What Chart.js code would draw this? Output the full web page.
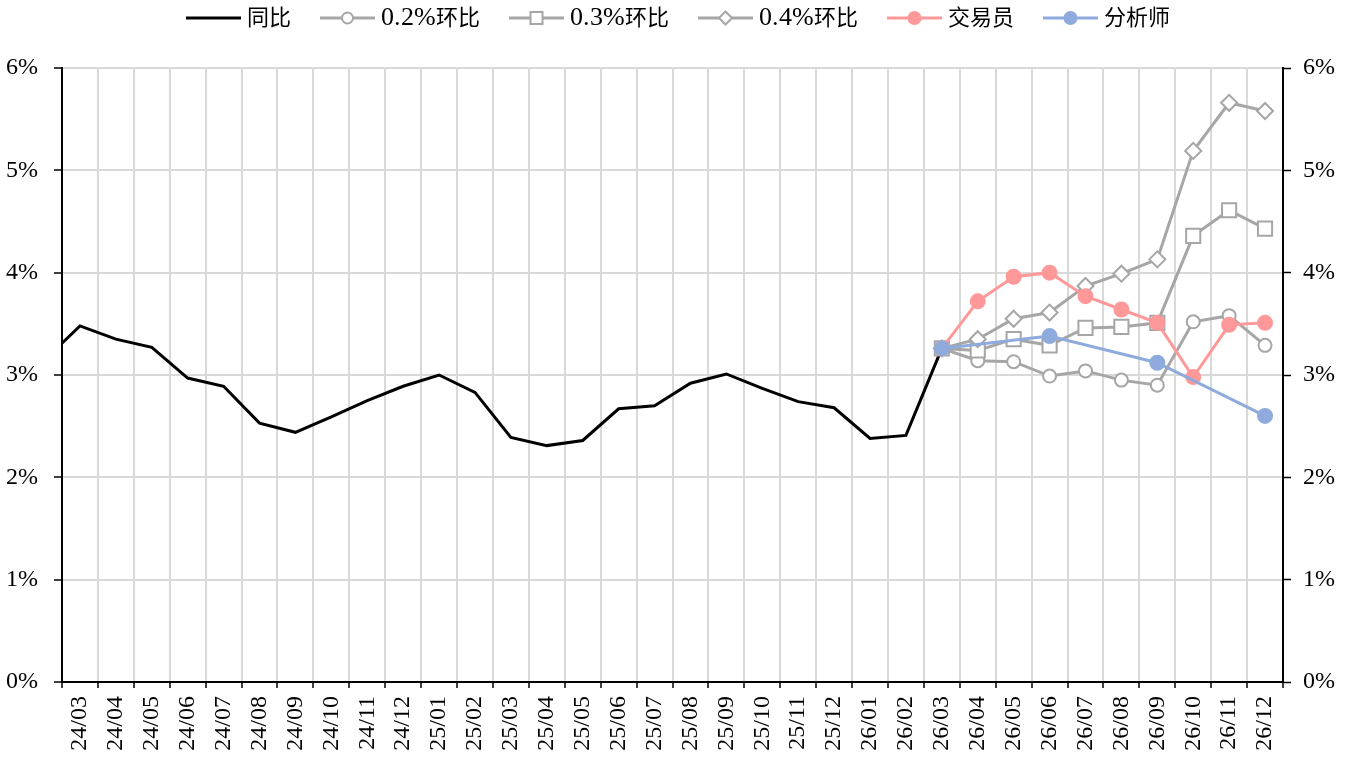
<!DOCTYPE html>
<html><head><meta charset="utf-8">
<script src="https://cdn.jsdelivr.net/npm/chart.js@4.4.1/dist/chart.umd.min.js"></script>
<style>
html,body{margin:0;padding:0;background:#fff}#wrap{width:1356px;height:758px}
@font-face{font-family:'LegendLatin';src:local('Liberation Serif'),local('LiberationSerif');size-adjust:120%;unicode-range:U+0000-00FF;}
</style>
</head><body><div id="wrap"><canvas id="c" width="1356" height="758"></canvas></div>
<script>
// ---- data ----
const priorMonth = '24/02';          // month before the window (only its segment edge is visible)
const months = ['24/03','24/04','24/05','24/06','24/07','24/08','24/09','24/10','24/11','24/12',
  '25/01','25/02','25/03','25/04','25/05','25/06','25/07','25/08','25/09','25/10','25/11','25/12',
  '26/01','26/02','26/03','26/04','26/05','26/06','26/07','26/08','26/09','26/10','26/11','26/12'];
const priorYoY = 3.14;
const yoy = [3.48,3.35,3.27,2.97,2.89,2.53,2.44,2.59,2.75,2.89,
  3.00,2.83,2.39,2.31,2.36,2.67,2.70,2.92,3.01,2.87,2.74,2.68,
  2.38,2.41,3.26];
const forecastStart = '26/03';
const mom02 = [3.26,3.14,3.13,2.99,3.04,2.95,2.90,3.52,3.58,3.29];
const mom03 = [3.26,3.24,3.35,3.29,3.46,3.47,3.51,4.36,4.61,4.43];
const mom04 = [3.26,3.35,3.55,3.61,3.87,3.99,4.13,5.19,5.66,5.58];
const trader = [3.26,3.72,3.96,4.00,3.77,3.64,3.51,2.98,3.49,3.51];
const analyst = [3.26,null,null,3.38,null,null,3.12,null,null,2.60];
const yTicks = [0,1,2,3,4,5,6];
const seriesNames = ['同比','0.2%环比','0.3%环比','0.4%环比','交易员','分析师'];

// ---- build ----
const labels = [priorMonth, ...months];
const fcOffset = labels.indexOf(forecastStart);
function padSeries(vals, offset) {
  const arr = new Array(labels.length).fill(null);
  vals.forEach((v, i) => { arr[offset + i] = v; });
  return arr;
}
const yoyData = padSeries([priorYoY, ...yoy], 0);

const GRAY = '#A6A6A6', PINK = '#FF9999', BLUE = '#8FAADC', BLACK = '#000000';
const FONT = "'Liberation Serif','Times New Roman','Noto Sans CJK SC',serif";
const LEGEND_FONT = "'LegendLatin','Liberation Serif','Noto Sans CJK SC',serif";

function makeIcon(color, marker, filled) {
  const W = 60, H = 20;
  const c = document.createElement('canvas');
  c.width = W; c.height = H;
  const g = c.getContext('2d');
  g.strokeStyle = color; g.lineWidth = 3;
  g.beginPath(); g.moveTo(5, H/2); g.lineTo(W, H/2); g.stroke();
  const cx = 32.5, cy = H/2;
  g.lineWidth = 2; g.fillStyle = filled ? color : '#ffffff';
  g.beginPath();
  if (marker === 'circle') { g.arc(cx, cy, filled ? 7 : 5.5, 0, Math.PI*2); }
  else if (marker === 'rect') { g.rect(cx-6, cy-6, 12, 12); }
  else if (marker === 'rectRot') { g.moveTo(cx, cy-6.5); g.lineTo(cx+6.5, cy); g.lineTo(cx, cy+6.5); g.lineTo(cx-6.5, cy); g.closePath(); }
  if (marker) { g.fill(); if (!filled) g.stroke(); }
  return c;
}

const topSpacer = {
  id: 'topSpacer',
  beforeInit(chart) {
    const box = {
      position: 'top', weight: 500, fullSize: true, options: {},
      width: 0, height: 0, top: 0, left: 0, right: 0, bottom: 0,
      update(maxWidth) { this.width = maxWidth; this.height = 29; },
      isHorizontal() { return true; },
      draw() {}
    };
    Chart.layouts.addBox(chart, box);
  }
};

function markerDs(label, data, color, style, radius, filled, order) {
  return {
    label, data, borderColor: color, borderWidth: 3,
    pointStyle: style, pointRadius: radius, pointHoverRadius: radius,
    pointBackgroundColor: filled ? color : '#ffffff', pointBorderColor: color,
    pointBorderWidth: 2, spanGaps: true, order
  };
}

function build() {
  const icons = [
    makeIcon(BLACK, null, false),
    makeIcon(GRAY, 'circle', false),
    makeIcon(GRAY, 'rect', false),
    makeIcon(GRAY, 'rectRot', false),
    makeIcon(PINK, 'circle', true),
    makeIcon(BLUE, 'circle', true)
  ];
  const datasets = [
    { label: seriesNames[0], data: yoyData, borderColor: BLACK, borderWidth: 3, pointRadius: 0, order: 6 },
    markerDs(seriesNames[1], padSeries(mom02, fcOffset), GRAY, 'circle', 6.5, false, 5),
    markerDs(seriesNames[2], padSeries(mom03, fcOffset), GRAY, 'rect', 10, false, 4),
    markerDs(seriesNames[3], padSeries(mom04, fcOffset), GRAY, 'rectRot', 8, false, 3),
    markerDs(seriesNames[4], padSeries(trader, fcOffset), PINK, 'circle', 7, true, 2),
    markerDs(seriesNames[5], padSeries(analyst, fcOffset), BLUE, 'circle', 7, true, 1)
  ];
  const yCommon = {
    type: 'linear', min: yTicks[0], max: yTicks[yTicks.length-1],
    ticks: { stepSize: 1, color: '#000', font: { family: FONT, size: 24 }, padding: 12,
             callback: v => v + '%' },
    border: { color: '#000', width: 2 }
  };
  new Chart(document.getElementById('c'), {
    type: 'line',
    data: { labels, datasets },
    plugins: [topSpacer],
    options: {
      responsive: false, animation: false, events: [],
      layout: { padding: { top: -22, left: 0, right: 0, bottom: 0 } },
      plugins: {
        tooltip: { enabled: false },
        legend: {
          position: 'top',
          labels: {
            usePointStyle: true, pointStyleWidth: 50, padding: 29, color: '#000',
            font: { family: LEGEND_FONT, size: 22 },
            generateLabels: (chart) => chart.data.datasets.map((ds, i) => ({
              text: ds.label, pointStyle: icons[i], fillStyle: 'rgba(0,0,0,0)', strokeStyle: 'rgba(0,0,0,0)',
              lineWidth: 0, hidden: false, datasetIndex: i, fontColor: '#000'
            }))
          }
        }
      },
      scales: {
        x: {
          type: 'category', min: months[0], max: months[months.length-1], offset: true,
          grid: { offset: true, color: '#D9D9D9', lineWidth: 2, tickColor: '#000', tickLength: 6, tickWidth: 1.5 },
          border: { color: '#000', width: 2 },
          ticks: { autoSkip: false, minRotation: 90, maxRotation: 90, color: '#000', padding: 8,
                   font: { family: FONT, size: 24 } },
          afterFit: s => { s.height = 76; }
        },
        y: Object.assign({}, yCommon, {
          position: 'left',
          ticks: Object.assign({}, yCommon.ticks, { padding: 16 }),
          grid: { color: '#D9D9D9', lineWidth: 2, tickColor: '#000', tickLength: 8, tickWidth: 1.5 },
          afterFit: s => { s.width = 62; }
        }),
        y2: Object.assign({}, yCommon, {
          position: 'right',
          grid: { drawOnChartArea: false, tickColor: '#000', tickLength: 8, tickWidth: 1.5 },
          afterFit: s => { s.width = 73; }
        })
      }
    }
  });
}

const loads = [
  document.fonts.load("22px 'LegendLatin'", "0.2%"),
  document.fonts.load("24px 'Liberation Serif'", "0%"),
  document.fonts.load("22px 'Noto Sans CJK SC'", "同比")
];
Promise.all(loads.map(p => p.catch(() => null))).then(build, build);
</script></body></html>
